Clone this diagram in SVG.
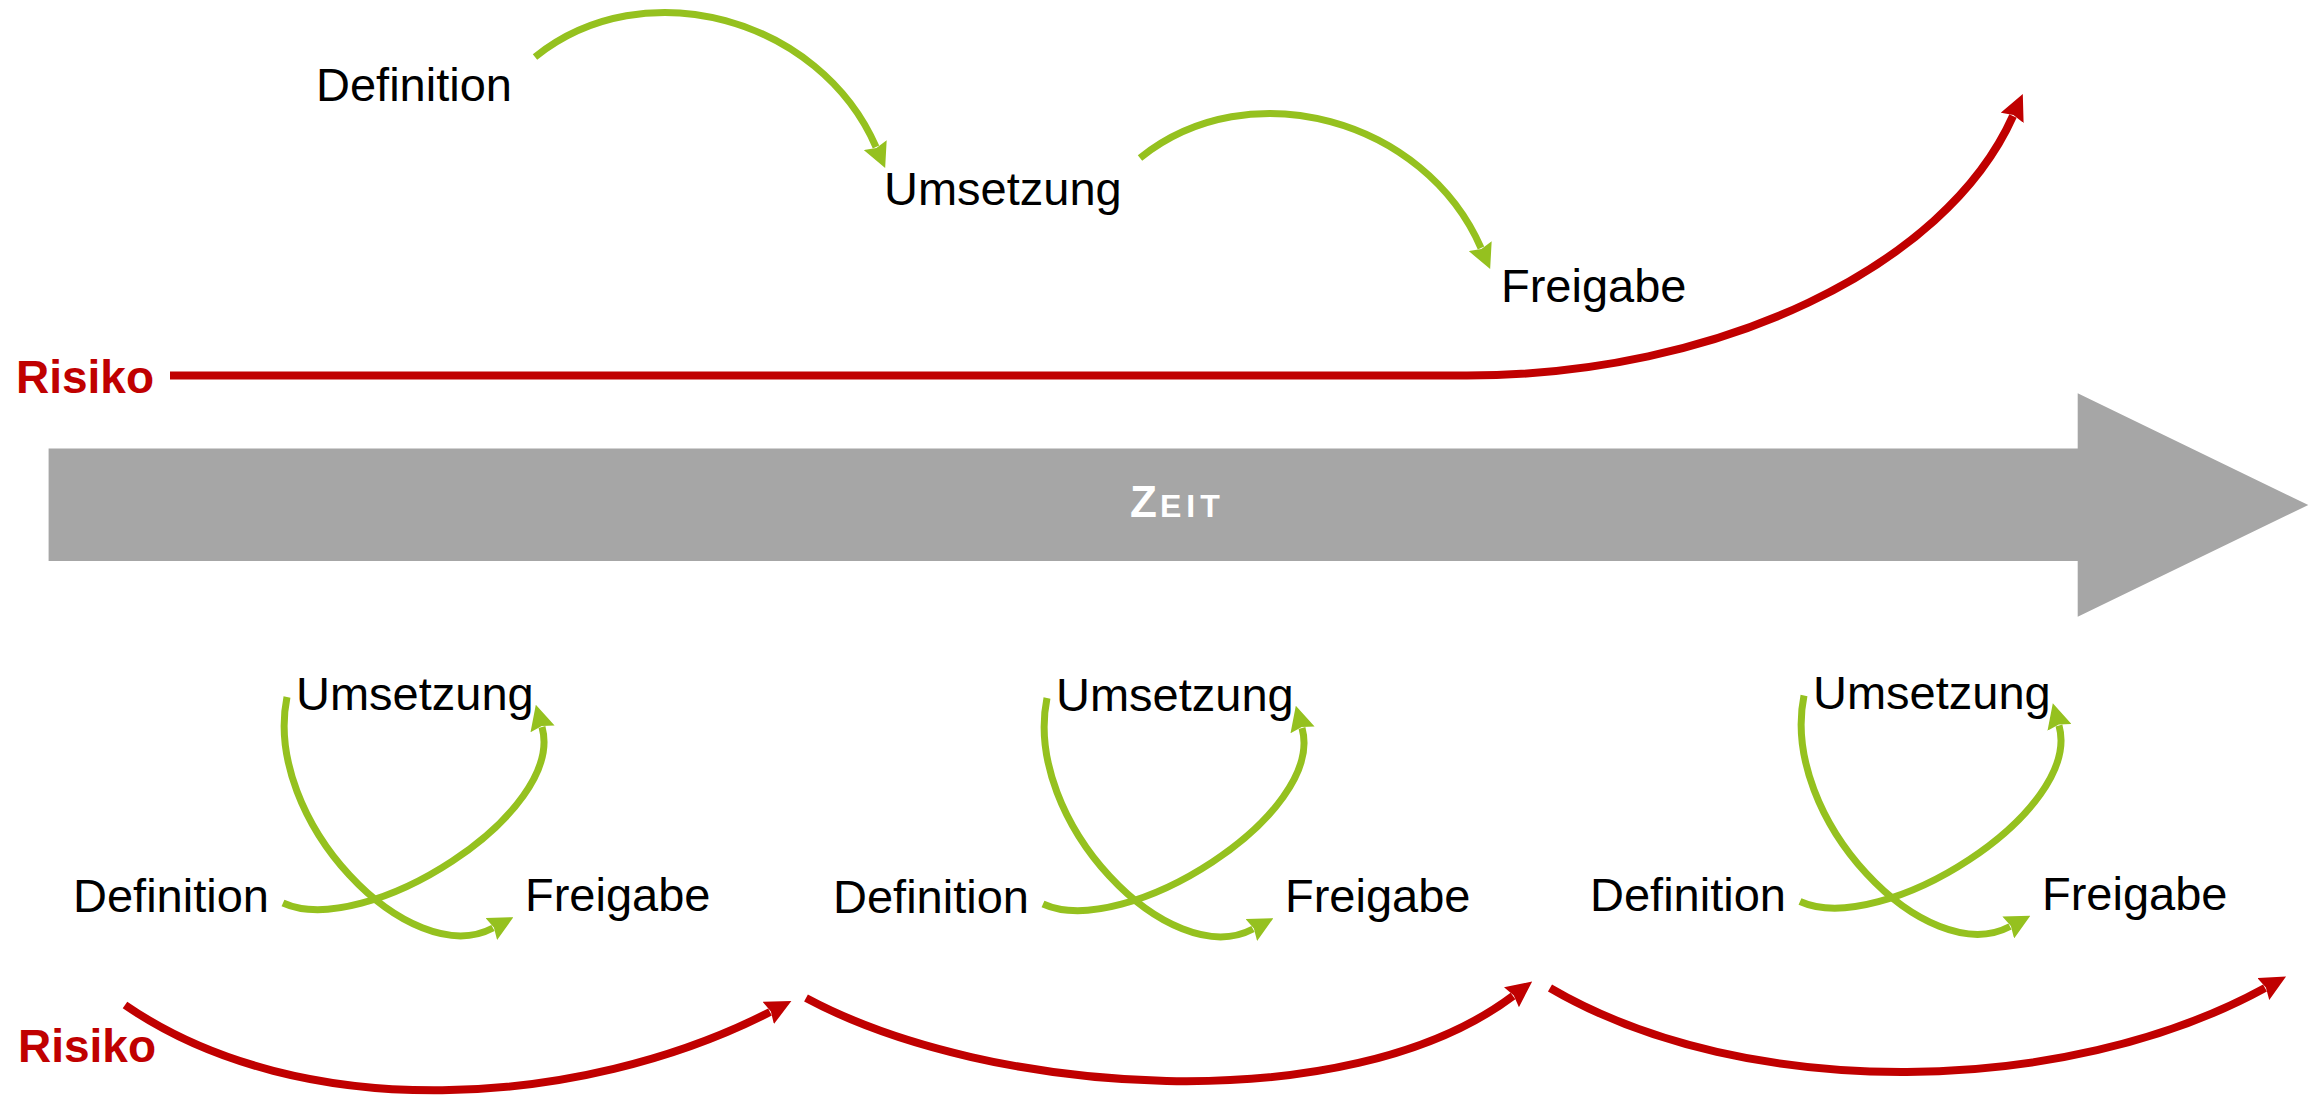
<svg xmlns="http://www.w3.org/2000/svg" width="2318" height="1095" viewBox="0 0 2318 1095">
<style>
.lbl{font-family:"Liberation Sans",Arial,sans-serif;font-size:47px;fill:#000}
.risk{font-family:"Liberation Sans",Arial,sans-serif;font-size:46px;font-weight:bold;fill:#C00000}
.g{fill:none;stroke:#95C11F;stroke-width:7;marker-end:url(#ag)}
.r{fill:none;stroke:#C00000;stroke-width:8;marker-end:url(#ar)}
</style>
<defs>
<marker id="ag" markerUnits="userSpaceOnUse" viewBox="0 0 25 25" markerWidth="25" markerHeight="25" refX="2" refY="12.5" orient="auto">
<path d="M0,0 L25,12.5 L0,25 L3,12.5 Z" fill="#95C11F"/>
</marker>
<marker id="ar" markerUnits="userSpaceOnUse" viewBox="0 0 26 25" markerWidth="26" markerHeight="25" refX="2" refY="12.5" orient="auto">
<path d="M0,0 L26,12.5 L0,25 L3,12.5 Z" fill="#C00000"/>
</marker>
</defs>
<rect width="2318" height="1095" fill="#fff"/>

<g id="zeit">
<polygon points="48.6,448.5 2077.7,448.5 2077.7,393.3 2308.3,505 2077.7,616.7 2077.7,561 48.6,561" fill="#A6A6A6"/>
<text x="1130" y="517" font-family="'Liberation Sans',Arial,sans-serif" font-weight="bold" fill="#fff"><tspan font-size="44">Z</tspan><tspan font-size="32" dx="3" letter-spacing="5">EIT</tspan></text>
</g>

<g id="connectors">
<path class="g" d="M535,57 C644,-31 820,18 876,147"/>
<path class="g" d="M1140,158 C1249,70 1425,119 1481,248"/>
<path class="r" d="M170,375.5 H1467 C1717,375.5 1945,268 2013,116"/>
<g id="loop1-conn">
<path class="g" d="M287,697 C262,820 410,972 493,928"/>
<path class="g" d="M283,903 C365,940 566,813 542,727"/>
</g>
<g id="loop2-conn" transform="translate(760,1)">
<path class="g" d="M287,697 C262,820 410,972 493,928"/>
<path class="g" d="M283,903 C365,940 566,813 542,727"/>
</g>
<g id="loop3-conn" transform="translate(1517,-1.5)">
<path class="g" d="M287,697 C262,820 410,972 493,928"/>
<path class="g" d="M283,903 C365,940 566,813 542,727"/>
</g>
<path class="r" d="M125,1005 C301,1126 580,1109 770,1012"/>
<path class="r" d="M806,998 C991,1097 1347,1121 1513,996"/>
<path class="r" d="M1550,988 C1747,1103 2066,1097 2265,988"/>
</g>

<g id="top-definition"><text class="lbl" x="316" y="101">Definition</text></g>
<g id="top-umsetzung"><text class="lbl" x="884" y="205">Umsetzung</text></g>
<g id="top-freigabe"><text class="lbl" x="1501" y="302">Freigabe</text></g>
<g id="top-risiko"><text class="risk" x="16" y="393">Risiko</text></g>

<g id="loop1">
<text class="lbl" x="73" y="912">Definition</text>
<text class="lbl" x="296" y="710">Umsetzung</text>
<text class="lbl" x="525" y="911">Freigabe</text>
</g>
<g id="loop2" transform="translate(760,1)">
<text class="lbl" x="73" y="912">Definition</text>
<text class="lbl" x="296" y="710">Umsetzung</text>
<text class="lbl" x="525" y="911">Freigabe</text>
</g>
<g id="loop3" transform="translate(1517,-1.5)">
<text class="lbl" x="73" y="912">Definition</text>
<text class="lbl" x="296" y="710">Umsetzung</text>
<text class="lbl" x="525" y="911">Freigabe</text>
</g>
<g id="bottom-risiko"><text class="risk" x="18" y="1062">Risiko</text></g>
</svg>
